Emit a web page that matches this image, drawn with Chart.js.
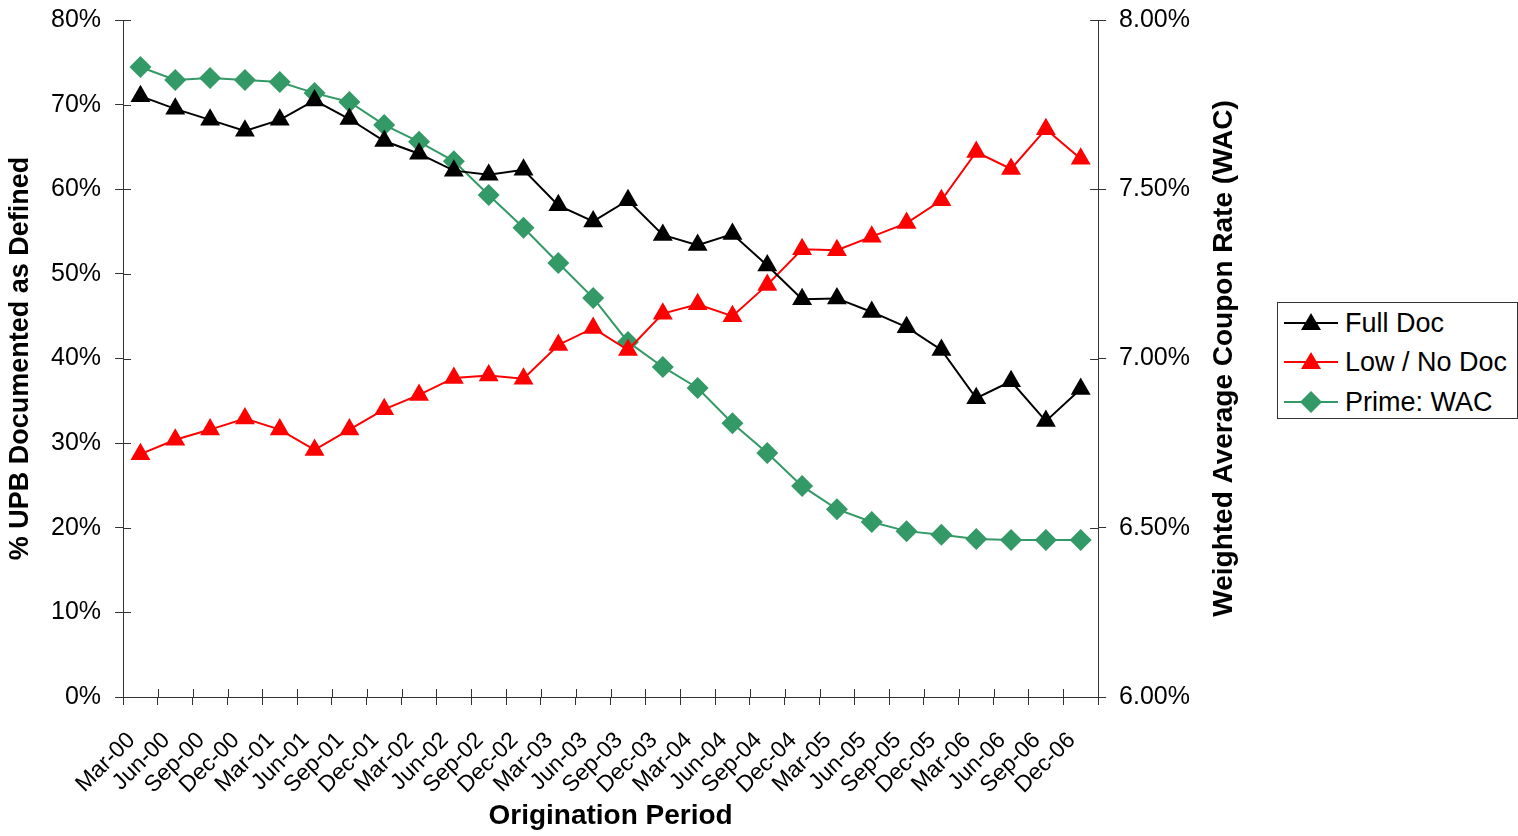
<!DOCTYPE html>
<html><head><meta charset="utf-8">
<script src="https://cdn.jsdelivr.net/npm/chart.js@4"></script>
<style>
html,body{margin:0;padding:0;background:#fff;width:1518px;height:836px;overflow:hidden;}
#wrap{position:absolute;left:0;top:0;width:1270px;height:836px;}
#legend{position:absolute;left:1277px;top:302px;width:241px;height:117px;border:1px solid #333;box-sizing:border-box;font-family:"Liberation Sans",Arial,sans-serif;font-size:27px;color:#000;background:#fff;}
.row{position:absolute;left:6px;height:36px;display:flex;align-items:center;white-space:nowrap;}
.row svg{margin-right:7px;}
</style></head>
<body>
<div id="wrap"><canvas id="c" width="1270" height="836"></canvas></div>
<div id="legend"></div>
<script>
const categories = ["Mar-00","Jun-00","Sep-00","Dec-00","Mar-01","Jun-01","Sep-01","Dec-01","Mar-02","Jun-02","Sep-02","Dec-02","Mar-03","Jun-03","Sep-03","Dec-03","Mar-04","Jun-04","Sep-04","Dec-04","Mar-05","Jun-05","Sep-05","Dec-05","Mar-06","Jun-06","Sep-06","Dec-06"];
const fullDoc  = [71.0,69.5,68.2,66.9,68.2,70.5,68.3,65.7,64.2,62.2,61.7,62.3,58.1,56.2,58.7,54.6,53.4,54.7,51.0,47.0,47.1,45.5,43.7,41.0,35.3,37.3,32.6,36.4];
const lowNoDoc = [28.7,30.4,31.6,32.9,31.6,29.2,31.6,34.0,35.7,37.7,38.0,37.6,41.6,43.6,41.0,45.3,46.4,45.0,48.7,52.9,52.8,54.4,56.0,58.7,64.4,62.4,67.1,63.6];
const primeWAC = [7.861,7.823,7.829,7.823,7.817,7.784,7.758,7.690,7.640,7.583,7.483,7.386,7.282,7.179,7.049,6.975,6.913,6.809,6.721,6.623,6.555,6.517,6.490,6.479,6.467,6.464,6.464,6.464];
const leftTicks  = [0,10,20,30,40,50,60,70,80];
const rightTicks = [6.0,6.5,7.0,7.5,8.0];
const seriesNames = ["Full Doc","Low / No Doc","Prime: WAC"];
const seriesColors = ["#000000","#FF0000","#339966"];

const FONT = '"Liberation Sans", Arial, sans-serif';
Chart.defaults.font.family = FONT;
Chart.defaults.color = '#000';

const AXIS = '#333';

const innerTicks = {
  id:'innerTicks',
  afterDraw(chart){
    const ctx = chart.ctx, x = chart.scales.x, y = chart.scales.y, y1 = chart.scales.y1;
    ctx.save();
    ctx.strokeStyle = AXIS; ctx.lineWidth = 1;
    ctx.beginPath();
    y.ticks.forEach(t => { const p = Math.round(y.getPixelForValue(t.value)) + 0.5; ctx.moveTo(y.right, p); ctx.lineTo(y.right + 8, p); });
    y1.ticks.forEach(t => { const p = Math.round(y1.getPixelForValue(t.value)) + 0.5; ctx.moveTo(y1.left, p); ctx.lineTo(y1.left - 8, p); });
    for (let i = 0; i <= categories.length; i++) {
      const p = Math.round(x.getPixelForValue(i - 0.5)) + 0.5;
      ctx.moveTo(p, x.top); ctx.lineTo(p, x.top - 8);
    }
    ctx.stroke();
    // right axis title (reads bottom to top)
    const a = chart.chartArea;
    ctx.translate(1224, (a.top + a.bottom) / 2);
    ctx.rotate(-Math.PI / 2);
    ctx.font = 'bold 28px ' + FONT;
    ctx.textAlign = 'center'; ctx.textBaseline = 'middle'; ctx.fillStyle = '#000';
    ctx.fillText('Weighted Average Coupon Rate (WAC)', 0, 0);
    ctx.restore();
  }
};

const data = {
  labels: categories,
  datasets: [
    {label: seriesNames[0], data: fullDoc, yAxisID:'y', borderColor: seriesColors[0], backgroundColor: seriesColors[0], borderWidth:2, pointStyle:'triangle', pointRadius:11.5, pointBorderWidth:0, pointBackgroundColor: seriesColors[0], tension:0},
    {label: seriesNames[1], data: lowNoDoc, yAxisID:'y', borderColor: seriesColors[1], backgroundColor: seriesColors[1], borderWidth:2, pointStyle:'triangle', pointRadius:11.5, pointBorderWidth:0, pointBackgroundColor: seriesColors[1], tension:0},
    {label: seriesNames[2], data: primeWAC, yAxisID:'y1', borderColor: seriesColors[2], backgroundColor: seriesColors[2], borderWidth:2, pointStyle:'rectRot', pointRadius:11, pointBorderWidth:0, pointBackgroundColor: seriesColors[2], tension:0}
  ]
};

const noVPad = s => { s.paddingTop = 0; s.paddingBottom = 0; };

new Chart(document.getElementById('c'), {
  type:'line',
  data,
  plugins:[innerTicks],
  options:{
    responsive:false, animation:false, devicePixelRatio:1,
    layout:{padding:{top:20, right:67, left:0, bottom:0}},
    plugins:{legend:{display:false}, tooltip:{enabled:false}},
    scales:{
      x:{
        type:'category', offset:true,
        afterFit: s => { s.height = 139; },
        grid:{display:true, drawOnChartArea:false, drawTicks:true, tickLength:8, color:AXIS, offset:true},
        border:{display:true, color:AXIS, width:1},
        ticks:{autoSkip:false, maxRotation:45, minRotation:45, padding:22, labelOffset:-9, color:'#000', font:{size:23}},
        title:{display:true, text:'Origination Period', color:'#000', font:{size:28, weight:'bold'}, padding:{top:6, bottom:3}}
      },
      y:{
        position:'left', min:0, max:80,
        afterBuildTicks: s => { s.ticks = leftTicks.map(v => ({value:v})); },
        afterFit: noVPad,
        grid:{display:true, drawOnChartArea:false, drawTicks:true, tickLength:8, color:AXIS},
        border:{display:true, color:AXIS, width:1},
        ticks:{padding:14, color:'#000', font:{size:25}, callback: v => v + '%'},
        title:{display:true, text:'% UPB Documented as Defined', color:'#000', font:{size:27, weight:'bold'}, padding:{top:4, bottom:0.6}}
      },
      y1:{
        position:'right', min:6, max:8,
        afterBuildTicks: s => { s.ticks = rightTicks.map(v => ({value:v})); },
        afterFit: noVPad,
        grid:{display:true, drawOnChartArea:false, drawTicks:true, tickLength:8, color:AXIS},
        border:{display:true, color:AXIS, width:1},
        ticks:{padding:13, color:'#000', font:{size:25}, callback: v => Number(v).toFixed(2) + '%'}
      }
    }
  }
});

// HTML legend
const legend = document.getElementById('legend');
const rowTops = [2, 41, 81];
seriesNames.forEach((name, i) => {
  const c = seriesColors[i];
  const marker = i < 2
    ? `<polygon points="27,5 37,22 17,22" fill="${c}"/>`
    : `<polygon points="27,4 38,15 27,26 16,15" fill="${c}"/>`;
  const row = document.createElement('div');
  row.className = 'row';
  row.style.top = rowTops[i] + 'px';
  row.innerHTML = `<svg width="54" height="30" viewBox="0 0 54 30"><line x1="0" y1="15" x2="54" y2="15" stroke="${c}" stroke-width="2"/>${marker}</svg><span>${name}</span>`;
  legend.appendChild(row);
});
</script>
</body></html>
